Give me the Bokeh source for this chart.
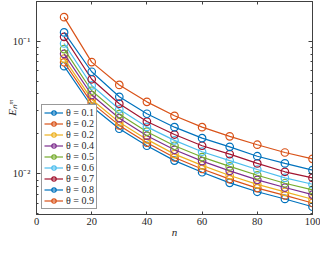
from bokeh.plotting import figure
from bokeh.models import (Range1d, LinearAxis, LogAxis, FixedTicker, Legend, LegendItem,
                          CustomJSTickFormatter)
from bokeh.embed import file_html
from bokeh.resources import INLINE

# ---- data ----
n_vals = [10, 20, 30, 40, 50, 60, 70, 80, 90, 100]
theta_labels = ["θ = 0.1", "θ = 0.2", "θ = 0.2", "θ = 0.4", "θ = 0.5",
                "θ = 0.6", "θ = 0.7", "θ = 0.8", "θ = 0.9"]
e_01 = [0.0648, 0.0322, 0.0219, 0.0163, 0.0126, 0.0103, 0.00857, 0.00734, 0.00648, 0.00566]
e_02a = [0.0693, 0.0343, 0.0232, 0.0172, 0.0133, 0.0109, 0.00915, 0.00782, 0.00689, 0.00604]
e_02b = [0.0739, 0.0364, 0.0245, 0.0182, 0.0141, 0.0116, 0.00974, 0.00835, 0.00732, 0.00645]
e_04 = [0.0802, 0.0393, 0.0263, 0.0194, 0.0152, 0.0125, 0.01055, 0.00903, 0.00790, 0.00699]
e_05 = [0.0871, 0.0423, 0.0282, 0.0208, 0.0163, 0.0134, 0.0114, 0.00977, 0.00851, 0.00759]
e_06 = [0.0960, 0.0464, 0.0307, 0.0226, 0.0179, 0.0147, 0.0126, 0.0108, 0.00933, 0.00836]
e_07 = [0.1078, 0.0516, 0.0338, 0.0248, 0.0198, 0.0163, 0.0141, 0.0120, 0.01038, 0.00933]
e_08 = [0.1163, 0.0588, 0.0381, 0.0284, 0.0225, 0.0186, 0.0160, 0.0136, 0.0120, 0.01067]
e_09 = [0.1516, 0.0695, 0.0468, 0.0349, 0.0274, 0.0225, 0.0192, 0.0166, 0.0145, 0.0130]
series = [e_01, e_02a, e_02b, e_04, e_05, e_06, e_07, e_08, e_09]
colors = ["#0072BD", "#D95319", "#EDB120", "#7E2F8E", "#77AC30",
          "#4DBEEE", "#A2142F", "#0072BD", "#D95319"]
x_ticks = [0, 20, 40, 60, 80, 100]
y_ticks = [0.01, 0.1]
y_minor = [0.005, 0.006, 0.007, 0.008, 0.009,
           0.02, 0.03, 0.04, 0.05, 0.06, 0.07, 0.08, 0.09, 0.2]

FONT = "Liberation Serif"
AX = "#404040"

p = figure(width=320, height=240, y_axis_type="log",
           x_range=Range1d(0, 100), y_range=Range1d(0.00495, 0.1988),
           output_backend="svg", toolbar_location=None,
           min_border_left=36, min_border_right=8, min_border_top=1, min_border_bottom=26)
p.xgrid.visible = False
p.ygrid.visible = False
p.outline_line_color = AX
p.outline_line_width = 1
p.background_fill_color = "white"
p.border_fill_color = "white"

xa = p.xaxis[0]
xa.ticker = FixedTicker(ticks=x_ticks, minor_ticks=[])
ya = p.yaxis[0]
ya.ticker = FixedTicker(ticks=y_ticks, minor_ticks=y_minor)
ya.formatter = CustomJSTickFormatter(code="""
const e = Math.round(Math.log10(tick));
const sup = {"-":"\u207b","0":"\u2070","1":"\u00b9","2":"\u00b2","3":"\u00b3","4":"\u2074",
             "5":"\u2075","6":"\u2076","7":"\u2077","8":"\u2078","9":"\u2079"};
return "10" + String(e).split("").map(c => sup[c]).join("");
""")
for ax in (xa, ya):
    ax.axis_line_color = AX
    ax.major_tick_line_color = AX
    ax.minor_tick_line_color = AX
    ax.major_tick_out = 0
    ax.minor_tick_out = 0
    ax.major_label_text_font = FONT
    ax.major_label_text_font_size = "10.5px"
    ax.major_label_text_color = "#262626"
    ax.axis_label_text_font = FONT
    ax.axis_label_text_font_style = "italic"
    ax.axis_label_text_font_size = "11px"
    ax.axis_label_text_color = "#262626"
xa.major_tick_in = 3
xa.minor_tick_in = 0
xa.major_label_standoff = 3
xa.axis_label = "n"
xa.axis_label_standoff = -2
ya.major_tick_in = 4
ya.minor_tick_in = 2
ya.major_label_standoff = 6
ya.axis_label = "E\u2099\u1d50"
ya.axis_label_standoff = -8

blank = CustomJSTickFormatter(code="return '';")
top = LinearAxis(ticker=FixedTicker(ticks=x_ticks, minor_ticks=[]), formatter=blank,
                 major_label_text_font_size="1px", major_label_standoff=0,
                 major_tick_in=3, major_tick_out=0, minor_tick_in=0, minor_tick_out=0,
                 axis_line_color=AX, major_tick_line_color=AX)
p.add_layout(top, "above")
right = LogAxis(ticker=FixedTicker(ticks=y_ticks, minor_ticks=y_minor), formatter=blank,
                major_label_text_font_size="1px", major_label_standoff=0,
                major_tick_in=4, major_tick_out=0, minor_tick_in=2, minor_tick_out=0,
                axis_line_color=AX, major_tick_line_color=AX, minor_tick_line_color=AX)
p.add_layout(right, "right")

items = []
for lab, vals, c in zip(theta_labels, series, colors):
    lr = p.line(n_vals, vals, line_color=c, line_width=1.2)
    sr = p.scatter(n_vals, vals, marker="circle", size=7.5, fill_color=None,
                   line_color=c, line_width=1.2)
    items.append(LegendItem(label=lab, renderers=[lr, sr]))

legend = Legend(items=items, location=(5, 5), orientation="vertical",
                padding=2, spacing=0, margin=0, label_height=11, glyph_height=11,
                glyph_width=19, label_standoff=3,
                label_text_font=FONT, label_text_font_size="10px",
                label_text_color="#262626",
                border_line_color="#333333", border_line_width=0.8,
                background_fill_color="white", background_fill_alpha=1)
p.add_layout(legend)

open("out.html", "w", encoding="utf-8").write(file_html(p, INLINE))
